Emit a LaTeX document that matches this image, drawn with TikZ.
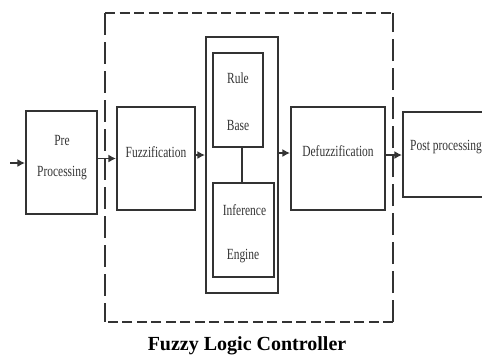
\documentclass[tikz,border=0pt]{standalone}
\usepackage{fontspec}
\setmainfont{Liberation Serif}
\newfontfamily\condfont[FakeStretch=0.74]{Liberation Serif}
\usetikzlibrary{arrows.meta}
\definecolor{linec}{HTML}{333333}
\definecolor{textc}{HTML}{353535}
\begin{document}
\begin{tikzpicture}[x=1pt,y=-1pt,
  box/.style={draw=linec,line width=2.1pt,rectangle,inner sep=0pt},
  lbl/.style={font=\condfont\fontsize{15.5}{15.5}\selectfont,text=textc,inner sep=0pt,anchor=base},
  arr/.style={draw=linec,line width=1.8pt,-{Latex[length=7.5pt,width=8pt]}},
  dsh/.style={draw=linec,line width=2.5pt}]
\useasboundingbox[fill=white] (0,0) rectangle (482,354);
% dashed controller frame
\coordinate (dtl) at (105,13);
\coordinate (dbr) at (393,322);
\draw[dsh,dash pattern=on 10pt off 4.5pt] (dtl) -- (dtl -| dbr);
\draw[dsh,dash pattern=on 10pt off 4.5pt] (dbr) -- (dbr -| dtl);
\draw[dsh,dash pattern=on 22pt off 7pt] (dtl) -- (dtl |- dbr);
\draw[dsh,dash pattern=on 22pt off 7pt] (dbr) -- (dbr |- dtl);
% boxes
\node[box,minimum width=71pt,minimum height=103pt] (pre) at (61.5,162.5) {};
\node[box,minimum width=78pt,minimum height=103pt] (fuzz) at (156,158.5) {};
\node[box,minimum width=72pt,minimum height=256pt] (outer) at (242,165) {};
\node[box,minimum width=50pt,minimum height=94pt] (rule) at (238,100) {};
\node[box,minimum width=61pt,minimum height=94pt] (inf) at (243.5,230) {};
\node[box,minimum width=94pt,minimum height=103pt] (defuzz) at (338,158.5) {};
\node[box,minimum width=97pt,minimum height=85pt] (post) at (451.5,154.5) {};
% labels
\node[lbl] (tpre) at (62,145) {Pre};
\node[lbl] (tproc) at (62,176) {Processing};
\node[lbl] (tfuzz) at (156,157) {Fuzzification};
\node[lbl] (trule) at (238,83) {Rule};
\node[lbl] (tbase) at (238,130) {Base};
\node[lbl] (tinf) at (244.5,215) {Inference};
\node[lbl] (teng) at (243,259) {Engine};
\node[lbl] (tdef) at (338,156) {Defuzzification};
\node[lbl,anchor=base west] (tpost) at (410,150) {Post processing};
\node[font=\bfseries\fontsize{20}{20}\selectfont,inner sep=0pt,anchor=base] (title) at (247,350) {Fuzzy Logic Controller};
% connectors
\coordinate (in) at (10,163);
\draw[arr] (in) -- (in -| pre.west);
\draw[arr] (pre.east |- fuzz.west) -- (fuzz.west);
\coordinate (f1) at ([yshift=3.5pt]fuzz.east);
\draw[arr] (f1) -- (f1 -| outer.west);
\coordinate (d1) at ([yshift=5.5pt]defuzz.west);
\draw[arr] (d1 -| outer.east) -- (d1);
\coordinate (p1) at ([yshift=3.5pt]defuzz.east);
\draw[arr] (p1) -- (p1 -| post.west);
\coordinate (c1) at ([xshift=4pt]rule.south);
\draw[draw=linec,line width=1.8pt] (c1) -- (c1 |- inf.north);
\end{tikzpicture}
\end{document}
